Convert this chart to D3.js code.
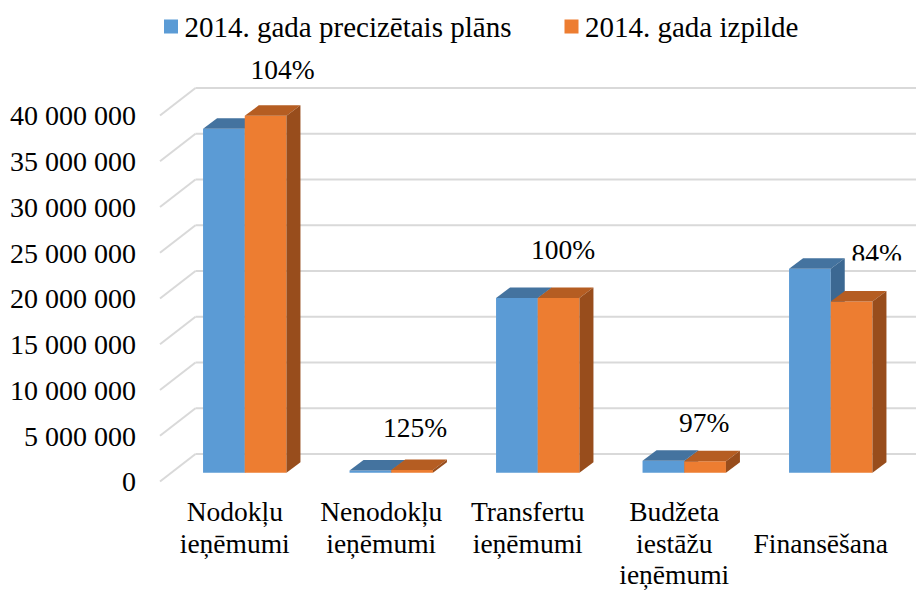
<!DOCTYPE html>
<html>
<head>
<meta charset="utf-8">
<script src="https://cdn.jsdelivr.net/npm/d3@7"></script>
<style>
  html, body { margin: 0; padding: 0; background: #fff; }
  svg { display: block; }
</style>
</head>
<body>
<svg id="chart" width="916" height="590"></svg>
<script>
// ---- data ----
const categories = ["Nodokļu\nieņēmumi", "Nenodokļu\nieņēmumi", "Transfertu\nieņēmumi", "Budžeta\niestāžu\nieņēmumi", "Finansēšana"];
const seriesNames = ["2014. gada precizētais plāns", "2014. gada izpilde"];
const planValues = [37600000, 240000, 19100000, 1300000, 22300000];
const actualValues = [39000000, 300000, 19100000, 1260000, 18700000];
const yTicks = [0, 5000000, 10000000, 15000000, 20000000, 25000000, 30000000, 35000000, 40000000];

// ---- layout ----
const W = 916, H = 590;
const FONT_FAMILY = "'Liberation Serif', 'Times New Roman', Tinos, 'DejaVu Serif', serif";
const svg = d3.select("#chart")
  .attr("font-family", FONT_FAMILY)
  .style("font-family", FONT_FAMILY);
svg.append("rect").attr("width", W).attr("height", H).attr("fill", "#fff");

const yFront = d3.scaleLinear().domain([0, 40000000]).range([481.5, 115.5]);
const wallDX = 35.5, wallDY = -27.5;       // floor depth (front -> back wall)
const barDX0 = 10, barDY0 = -8.8;          // bar front plane offset
const barDX = 14, barDY = -10.5;           // bar depth
const x = d3.scaleBand().domain(categories).range([161.5, 894]).padding(0);
const barW = 41.7;

const colors = {
  plan:   { front: "#5B9BD5", top: "#44739F", side: "#3C6892" },
  actual: { front: "#ED7D31", top: "#B55D22", side: "#984D1C" }
};

function txt(sel, size) {
  return sel.attr("font-family", FONT_FAMILY)
    .style("font-family", FONT_FAMILY)
    .style("font-size", size + "px")
    .attr("fill", "#000");
}

// ---- gridlines (side wall diagonals + back wall horizontals) ----
const grid = svg.append("g");
yTicks.forEach(v => {
  const yf = yFront(v);
  grid.append("line")
    .attr("x1", 160).attr("y1", yf)
    .attr("x2", 160 + wallDX).attr("y2", yf + wallDY)
    .attr("stroke", "#D9D9D9").attr("stroke-width", 2);
  grid.append("line")
    .attr("x1", 160 + wallDX).attr("y1", yf + wallDY)
    .attr("x2", W).attr("y2", yf + wallDY)
    .attr("stroke", "#D9D9D9").attr("stroke-width", 2);
});

// ---- y axis labels ----
const fmt = v => d3.format(",")(v).replace(/,/g, " ");
txt(svg.append("g").selectAll("text").data(yTicks).join("text")
  .attr("x", 136).attr("y", d => yFront(d))
  .attr("dy", "0.35em")
  .attr("text-anchor", "end"), 28)
  .text(fmt);

// ---- 3D bars ----
function bar3d(g, left, value, c) {
  const y0 = yFront(0) + barDY0;
  const yt = yFront(value) + barDY0;
  const xl = left, xr = left + barW;
  g.append("path").attr("fill", c.front)
    .attr("d", `M${xl},${y0}L${xr},${y0}L${xr},${yt}L${xl},${yt}Z`);
  g.append("path").attr("fill", c.top)
    .attr("d", `M${xl},${yt}L${xr},${yt}L${xr + barDX},${yt + barDY}L${xl + barDX},${yt + barDY}Z`);
  g.append("path").attr("fill", c.side)
    .attr("d", `M${xr},${y0}L${xr + barDX},${y0 + barDY}L${xr + barDX},${yt + barDY}L${xr},${yt}Z`);
}

const bars = svg.append("g");
categories.forEach((cat, i) => {
  const cx = x(cat) + x.bandwidth() / 2 + barDX0;
  const g = bars.append("g");
  bar3d(g, cx - barW, planValues[i], colors.plan);
  bar3d(g, cx, actualValues[i], colors.actual);
});

// ---- percentage labels ----
const labelNudge = [[17, -36.5], [3, -33], [4.5, -39], [-1, -29], [25, -38.5]];
svg.append("clipPath").attr("id", "clipLast")
  .append("rect").attr("x", 0).attr("y", 0).attr("width", W).attr("height", 260.5);
categories.forEach((cat, i) => {
  const cx = x(cat) + x.bandwidth() / 2 + barDX0 + barW / 2;
  const yt = yFront(actualValues[i]) + barDY0;
  const pct = Math.round(actualValues[i] / planValues[i] * 100) + "%";
  const t = txt(svg.append("text")
    .attr("x", cx + labelNudge[i][0]).attr("y", yt + labelNudge[i][1])
    .attr("text-anchor", "middle"), 27.5)
    .text(pct);
  if (i === categories.length - 1) t.attr("clip-path", "url(#clipLast)");
});

// ---- category labels ----
const catG = svg.append("g");
categories.forEach(cat => {
  const lines = cat.split("\n");
  const startLine = lines.length === 1 ? 1 : 0;
  const t = txt(catG.append("text").attr("text-anchor", "middle"), 27.5);
  lines.forEach((ln, j) => {
    t.append("tspan")
      .attr("x", x(cat) + x.bandwidth() / 2)
      .attr("y", 521 + (startLine + j) * 31.5)
      .text(ln);
  });
});

// ---- legend ----
const legend = svg.append("g");
const legendX = [164, 564.5];
seriesNames.forEach((name, i) => {
  legend.append("rect")
    .attr("x", legendX[i]).attr("y", 19.5).attr("width", 14).attr("height", 14)
    .attr("fill", i === 0 ? colors.plan.front : colors.actual.front);
  txt(legend.append("text")
    .attr("x", legendX[i] + 20.5).attr("y", 36.5), 29)
    .text(name);
});
</script>
</body>
</html>
